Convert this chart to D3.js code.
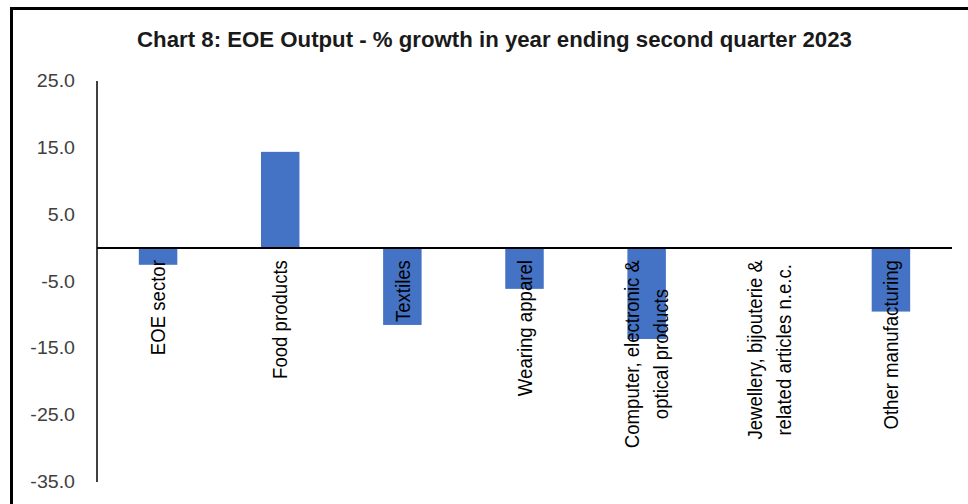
<!DOCTYPE html>
<html>
<head>
<meta charset="utf-8">
<script src="https://cdn.jsdelivr.net/npm/d3@7"></script>
<style>
  html, body { margin: 0; padding: 0; background: #fff; }
  svg { display: block; }
</style>
</head>
<body>
<svg id="chart" width="968" height="504"></svg>
<script>
// ---- data ----
const title = "Chart 8: EOE Output - % growth in year ending second quarter 2023";
const categories = [
  ["EOE sector"],
  ["Food products"],
  ["Textiles"],
  ["Wearing apparel"],
  ["Computer, electronic &", "optical products"],
  ["Jewellery, bijouterie &", "related articles n.e.c."],
  ["Other manufacturing"]
];
const values = [-2.5, 14.4, -11.5, -6.1, -13.6, null, -9.5];
const yTicks = [25, 15, 5, -5, -15, -25, -35];
const yDomain = [-35, 25];

// ---- layout ----
const svg = d3.select("#chart");
const W = 968, H = 504;
const plot = { left: 97, right: 952, top: 81, bottom: 482 };
const FONT = "Liberation Sans, Arial, sans-serif";

// frame (top and left border)
svg.append("line").attr("x1", 10).attr("x2", W).attr("y1", 8.5).attr("y2", 8.5)
  .attr("stroke", "#000").attr("stroke-width", 3);
svg.append("line").attr("x1", 11.5).attr("x2", 11.5).attr("y1", 7).attr("y2", H)
  .attr("stroke", "#000").attr("stroke-width", 3);

// title
const t = svg.append("text")
  .attr("x", 494.5).attr("y", 47)
  .attr("text-anchor", "middle")
  .attr("font-family", FONT)
  .attr("font-weight", "bold")
  .attr("font-size", 19)
  .attr("fill", "#1a1a1a")
  .text(title);
const tw = t.node().getComputedTextLength();
t.attr("font-size", 19 * 715 / tw);

// scales
const x = d3.scaleBand()
  .domain(categories.map((c, i) => i))
  .range([plot.left, plot.right])
  .paddingInner(0.685)
  .paddingOuter(0.3425);
const y = d3.scaleLinear().domain(yDomain).range([plot.bottom, plot.top]);

// y axis (labels only + line)
const fmt = d3.format(".1f");
const yAxis = d3.axisLeft(y).tickValues(yTicks).tickSize(0).tickPadding(0)
  .tickFormat(d => fmt(d).replace("\u2212", "-"));
const gy = svg.append("g").attr("transform", `translate(${plot.left},0)`).call(yAxis);
gy.select(".domain").remove();
gy.selectAll(".tick text")
  .attr("x", 0)
  .attr("font-family", FONT)
  .attr("font-size", 17.5)
  .attr("fill", "#404040")
  .attr("transform", "translate(-22,0) scale(1.12,1)");

svg.append("line")
  .attr("x1", plot.left).attr("x2", plot.left)
  .attr("y1", y(25)).attr("y2", y(-35))
  .attr("stroke", "#000").attr("stroke-width", 1.5);

// bars
svg.append("g").selectAll("rect")
  .data(values.map((v, i) => ({ v, i })).filter(d => d.v !== null))
  .join("rect")
  .attr("x", d => x(d.i))
  .attr("width", x.bandwidth())
  .attr("y", d => y(Math.max(0, d.v)))
  .attr("height", d => Math.abs(y(d.v) - y(0)))
  .attr("fill", "#4472C4");

// zero line
svg.append("line")
  .attr("x1", plot.left).attr("x2", plot.right)
  .attr("y1", y(0)).attr("y2", y(0))
  .attr("stroke", "#000").attr("stroke-width", 2);

// category labels (rotated)
const labelTop = y(0) + 12;
const glyphStretch = 1.08;
const lineGap = 29;
const gl = svg.append("g");
categories.forEach((lines, i) => {
  const cx = x(i) + x.bandwidth() / 2;
  const g = gl.append("g");
  const texts = lines.map((ln, j) => {
    const off = (j - (lines.length - 1) / 2) * lineGap;
    return g.append("text")
      .attr("font-family", FONT)
      .attr("font-size", 18.6)
      .attr("fill", "#000")
      .attr("text-anchor", "middle")
      .attr("dy", "0.36em")
      .attr("data-off", off)
      .text(ln);
  });
  const maxW = d3.max(texts, tx => tx.node().getComputedTextLength());
  const cy = labelTop + maxW / 2;
  texts.forEach(tx => {
    const off = +tx.attr("data-off");
    tx.attr("transform", `translate(${cx + off},${cy}) rotate(-90) scale(1,${glyphStretch})`);
  });
});
</script>
</body>
</html>
